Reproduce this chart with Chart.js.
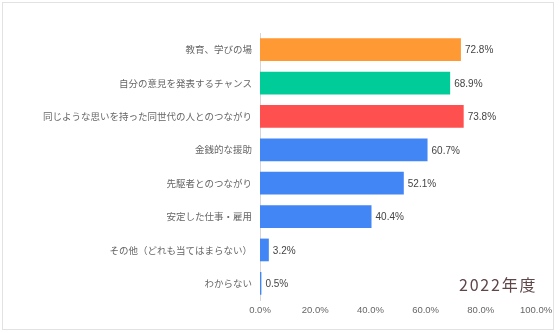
<!DOCTYPE html>
<html lang="ja">
<head>
<meta charset="UTF-8" />
<title>2022年度</title>
<script src="https://cdn.jsdelivr.net/npm/chart.js"></script>
<style>
  html, body { margin: 0; padding: 0; background: #fff; }
  .wrap { position: relative; width: 560px; height: 333px; }
  .frame { position: absolute; left: 2px; top: 2px; width: 550px; height: 326px; border: 1px solid #e2e2e2; }
  .year { position: absolute; left: 459px; top: 272px; font: 16px "Noto Sans CJK JP", sans-serif; color: #5e4649; letter-spacing: 1.8px; }
  canvas { position: absolute; left: 0; top: 0; }
</style>
</head>
<body>
<div class="wrap">
  <div class="frame"></div>
  <canvas id="chart" width="560" height="333"></canvas>
  <div class="year">2022年度</div>
</div>
<script>
const categories = [
  "教育、学びの場",
  "自分の意見を発表するチャンス",
  "同じような思いを持った同世代の人とのつながり",
  "金銭的な援助",
  "先駆者とのつながり",
  "安定した仕事・雇用",
  "その他（どれも当てはまらない）",
  "わからない"
];
const values = [72.8, 68.9, 73.8, 60.7, 52.1, 40.4, 3.2, 0.5];
const barColors = ["#ff9933", "#00cc99", "#ff5050", "#4285f4", "#4285f4", "#4285f4", "#4285f4", "#4285f4"];
const xTicks = [0, 20, 40, 60, 80, 100];

const jpFont = '"Noto Sans CJK JP", "Noto Sans", sans-serif';
const numFont = '"Liberation Sans", Arial, sans-serif';

// percentage labels at the end of each bar
const valueLabels = {
  id: "valueLabels",
  afterDatasetsDraw(chart) {
    const ctx = chart.ctx;
    const meta = chart.getDatasetMeta(0);
    ctx.save();
    ctx.font = "10px " + numFont;
    ctx.fillStyle = "#444";
    ctx.textBaseline = "middle";
    meta.data.forEach((bar, i) => {
      ctx.fillText(values[i].toFixed(1) + "%", bar.x + 4, bar.y + 1);
    });
    ctx.restore();
  }
};

new Chart(document.getElementById("chart"), {
  type: "bar",
  data: {
    labels: categories,
    datasets: [{
      data: values,
      backgroundColor: barColors,
      barPercentage: 0.68,
      categoryPercentage: 1
    }]
  },
  options: {
    indexAxis: "y",
    responsive: false,
    animation: false,
    layout: { padding: { left: 0, right: 24, top: 33, bottom: 13 } },
    plugins: { legend: { display: false }, tooltip: { enabled: false } },
    scales: {
      x: {
        min: 0,
        max: 100,
        afterBuildTicks(scale) { scale.ticks = xTicks.map(v => ({ value: v })); },
        afterFit(scale) { scale.height = 20; },
        grid: { display: false, drawTicks: false },
        border: { display: false },
        ticks: {
          color: "#666",
          font: { size: 9.5, family: numFont },
          padding: 5,
          maxRotation: 0,
          callback: v => v.toFixed(1) + "%"
        }
      },
      y: {
        afterFit(scale) { scale.width = 260; },
        grid: { display: false },
        border: { display: true, color: "#d6d6d6", width: 1 },
        ticks: {
          color: "#666",
          font: { size: 9.5, family: jpFont },
          padding: 0
        }
      }
    }
  },
  plugins: [valueLabels]
});
</script>
</body>
</html>
